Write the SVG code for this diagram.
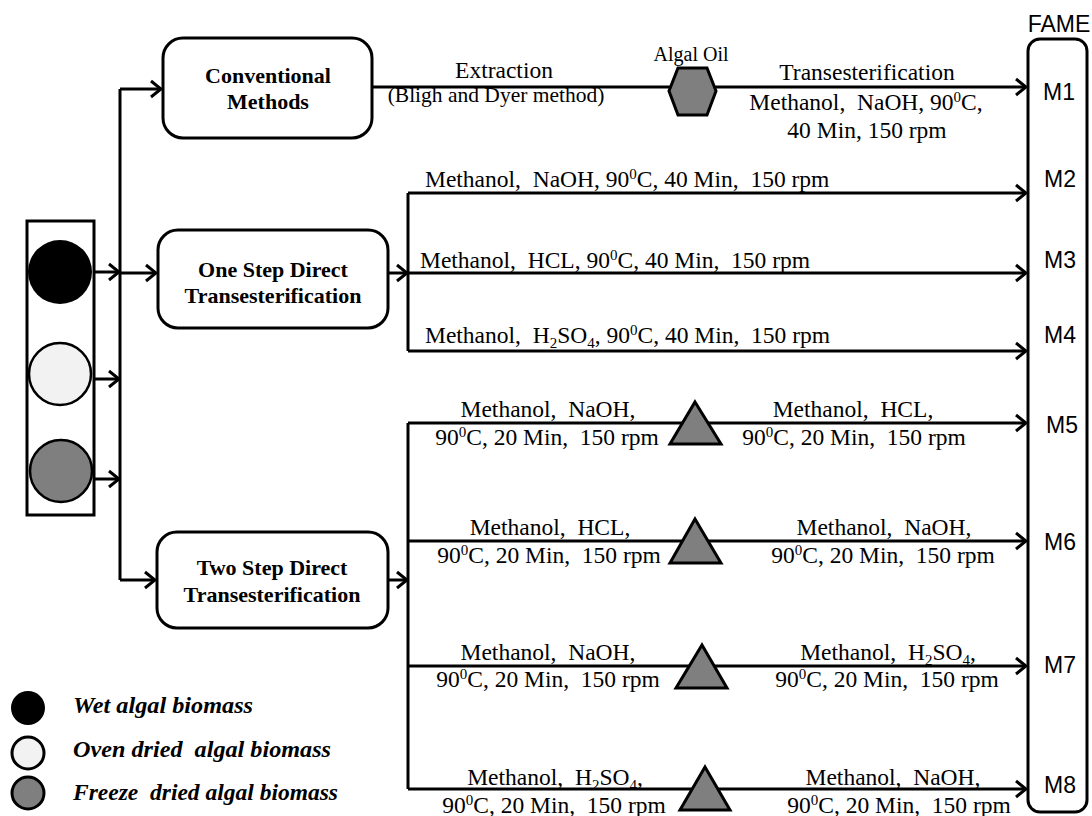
<svg xmlns="http://www.w3.org/2000/svg" width="1092" height="816" viewBox="0 0 1092 816">
<defs>
<style>
.t{font-family:"Liberation Serif","Times New Roman",serif;font-size:23.5px;fill:#000;white-space:pre}
.c{text-anchor:middle}
.b{font-family:"Liberation Serif","Times New Roman",serif;font-weight:bold;font-size:22px;text-anchor:middle;fill:#000}
.lg{font-family:"Liberation Serif","Times New Roman",serif;font-weight:bold;font-style:italic;font-size:23px;fill:#000;white-space:pre}
.s{font-family:"Liberation Sans",Arial,sans-serif;font-size:23px;text-anchor:middle;fill:#000}
.sm{font-size:20px}
.sup{font-size:15px}
.sub{font-size:15px}
.ln{stroke:#000;stroke-width:3;fill:none}
.box{fill:#fff;stroke:#000;stroke-width:3}
.tri{fill:#7f7f7f;stroke:#000;stroke-width:3;stroke-linejoin:miter}
</style>
<marker id="ah" markerUnits="userSpaceOnUse" viewBox="0 0 14 20" refX="12" refY="10" markerWidth="14" markerHeight="20" orient="auto">
<path d="M2,2 L12,10 L2,18" fill="none" stroke="#000" stroke-width="3"/>
</marker>
</defs>
<rect width="1092" height="816" fill="#fff"/>

<g id="connectors">
<path class="ln" d="M120,89 V580"/>
<path class="ln" d="M92,272 H119" marker-end="url(#ah)"/>
<path class="ln" d="M92,379 H119" marker-end="url(#ah)"/>
<path class="ln" d="M92,479 H119" marker-end="url(#ah)"/>
<path class="ln" d="M120,89 H161" marker-end="url(#ah)"/>
<path class="ln" d="M120,273 H156" marker-end="url(#ah)"/>
<path class="ln" d="M120,580 H155" marker-end="url(#ah)"/>
<path class="ln" d="M372,87 H1026" marker-end="url(#ah)"/>
<path class="ln" d="M388,273 H407" marker-end="url(#ah)"/>
<path class="ln" d="M408,193 V351"/>
<path class="ln" d="M408,193 H1026" marker-end="url(#ah)"/>
<path class="ln" d="M408,273 H1026" marker-end="url(#ah)"/>
<path class="ln" d="M408,351 H1026" marker-end="url(#ah)"/>
<path class="ln" d="M388,580 H407" marker-end="url(#ah)"/>
<path class="ln" d="M408,423 V789"/>
<path class="ln" d="M408,423 H1026" marker-end="url(#ah)"/>
<path class="ln" d="M408,541 H1026" marker-end="url(#ah)"/>
<path class="ln" d="M408,666 H1026" marker-end="url(#ah)"/>
<path class="ln" d="M408,789 H1026" marker-end="url(#ah)"/>
</g>

<g id="biomass">
<rect x="27" y="221" width="67" height="294" fill="#fff" stroke="#000" stroke-width="3"/>
<circle cx="60" cy="272" r="32" fill="#000"/>
<circle cx="60" cy="374" r="31" fill="#f2f2f2" stroke="#000" stroke-width="2.5"/>
<circle cx="61" cy="471" r="31" fill="#7f7f7f" stroke="#000" stroke-width="2.5"/>
</g>

<g id="conventional">
<rect class="box" x="163" y="38" width="209" height="100" rx="20"/>
<text class="b" x="268" y="83">Conventional</text>
<text class="b" x="268" y="109">Methods</text>
</g>

<g id="onestep">
<rect class="box" x="158" y="230" width="230" height="98" rx="20"/>
<text class="b" x="273" y="277">One Step Direct</text>
<text class="b" x="273" y="303">Transesterification</text>
</g>

<g id="twostep">
<rect class="box" x="157" y="532" width="231" height="96" rx="20"/>
<text class="b" x="272" y="575">Two Step Direct</text>
<text class="b" x="272" y="602">Transesterification</text>
</g>

<g id="algal-oil">
<polygon class="tri" points="678,68 707,68 716,91 707,115 678,115 669,91"/>
<text class="t c sm" x="691" y="61">Algal Oil</text>
</g>

<g id="labels-m1">
<text class="t c" x="504" y="78">Extraction</text>
<text class="t c" x="496" y="102" style="font-size:21.5px">(Bligh and Dyer method)</text>
<text class="t c" x="867" y="80">Transesterification</text>
<text class="t c" x="866" y="110">Methanol,  NaOH, 90<tspan class="sup" dy="-8">0</tspan><tspan dy="8">C,</tspan></text>
<text class="t c" x="867" y="138">40 Min, 150 rpm</text>
</g>

<g id="labels-onestep">
<text class="t" x="425" y="187">Methanol,  NaOH, 90<tspan class="sup" dy="-8">0</tspan><tspan dy="8">C, 40 Min,  150 rpm</tspan></text>
<text class="t" x="420" y="268">Methanol,  HCL, 90<tspan class="sup" dy="-8">0</tspan><tspan dy="8">C, 40 Min,  150 rpm</tspan></text>
<text class="t" x="425" y="343">Methanol,  H<tspan class="sub" dy="5">2</tspan><tspan dy="-5">SO</tspan><tspan class="sub" dy="5">4</tspan><tspan dy="-5">, 90</tspan><tspan class="sup" dy="-8">0</tspan><tspan dy="8">C, 40 Min,  150 rpm</tspan></text>
</g>

<g id="intermediate-m5"><polygon class="tri" points="695,402 721,444 670,444"/></g>
<g id="intermediate-m6"><polygon class="tri" points="695,519 721,563 670,563"/></g>
<g id="intermediate-m7"><polygon class="tri" points="702,645 727,688 676,688"/></g>
<g id="intermediate-m8"><polygon class="tri" points="705,767 730,810 680,810"/></g>

<g id="labels-twostep">
<text class="t c" x="548" y="417">Methanol,  NaOH,</text>
<text class="t c" x="547" y="445">90<tspan class="sup" dy="-8">0</tspan><tspan dy="8">C, 20 Min,  150 rpm</tspan></text>
<text class="t c" x="853" y="417">Methanol,  HCL,</text>
<text class="t c" x="854" y="445">90<tspan class="sup" dy="-8">0</tspan><tspan dy="8">C, 20 Min,  150 rpm</tspan></text>

<text class="t c" x="550" y="535">Methanol,  HCL,</text>
<text class="t c" x="549" y="563">90<tspan class="sup" dy="-8">0</tspan><tspan dy="8">C, 20 Min,  150 rpm</tspan></text>
<text class="t c" x="884" y="535">Methanol,  NaOH,</text>
<text class="t c" x="883" y="563">90<tspan class="sup" dy="-8">0</tspan><tspan dy="8">C, 20 Min,  150 rpm</tspan></text>

<text class="t c" x="548" y="660">Methanol,  NaOH,</text>
<text class="t c" x="548" y="687">90<tspan class="sup" dy="-8">0</tspan><tspan dy="8">C, 20 Min,  150 rpm</tspan></text>
<text class="t c" x="888" y="660">Methanol,  H<tspan class="sub" dy="5">2</tspan><tspan dy="-5">SO</tspan><tspan class="sub" dy="5">4</tspan><tspan dy="-5">,</tspan></text>
<text class="t c" x="887" y="687">90<tspan class="sup" dy="-8">0</tspan><tspan dy="8">C, 20 Min,  150 rpm</tspan></text>

<text class="t c" x="555" y="785">Methanol,  H<tspan class="sub" dy="5">2</tspan><tspan dy="-5">SO</tspan><tspan class="sub" dy="5">4</tspan><tspan dy="-5">,</tspan></text>
<text class="t c" x="554" y="813">90<tspan class="sup" dy="-8">0</tspan><tspan dy="8">C, 20 Min,  150 rpm</tspan></text>
<text class="t c" x="893" y="785">Methanol,  NaOH,</text>
<text class="t c" x="899" y="813">90<tspan class="sup" dy="-8">0</tspan><tspan dy="8">C, 20 Min,  150 rpm</tspan></text>
</g>

<g id="fame">
<text class="s" x="1059" y="32">FAME</text>
<rect class="box" x="1028" y="39" width="59" height="773" rx="12"/>
<text class="s" x="1059" y="100">M1</text>
<text class="s" x="1060" y="187">M2</text>
<text class="s" x="1060" y="268">M3</text>
<text class="s" x="1060" y="343">M4</text>
<text class="s" x="1062" y="433">M5</text>
<text class="s" x="1060" y="550">M6</text>
<text class="s" x="1060" y="673">M7</text>
<text class="s" x="1060" y="793">M8</text>
</g>

<g id="legend">
<circle cx="28" cy="708" r="17" fill="#000"/>
<circle cx="28" cy="753" r="16" fill="#f2f2f2" stroke="#000" stroke-width="3"/>
<circle cx="28" cy="793" r="16" fill="#7f7f7f" stroke="#000" stroke-width="3"/>
<text class="lg" x="73" y="713" textLength="180" lengthAdjust="spacingAndGlyphs">Wet algal biomass</text>
<text class="lg" x="73" y="757" textLength="258" lengthAdjust="spacingAndGlyphs">Oven dried  algal biomass</text>
<text class="lg" x="73" y="800" textLength="265" lengthAdjust="spacingAndGlyphs">Freeze  dried algal biomass</text>
</g>
</svg>
